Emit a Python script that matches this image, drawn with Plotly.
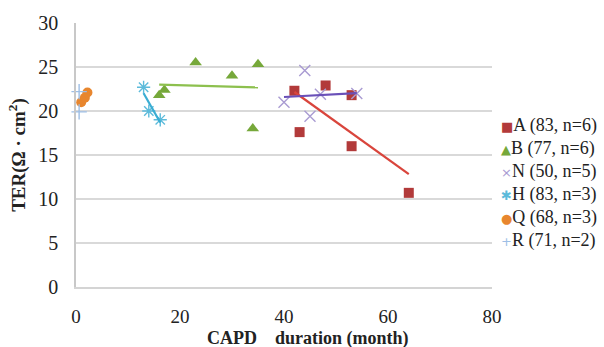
import numpy as np
import plotly.graph_objects as go

# ---- data ----
names = ["A (83, n=6)", "B (77, n=6)", "N (50, n=5)", "H (83, n=3)", "Q (68, n=3)", "R (71, n=2)"]
a_x = [42, 43, 48, 53, 53, 64]
a_y = [22.3, 17.6, 22.9, 21.8, 16.0, 10.7]
b_x = [16, 17, 23, 30, 34, 35]
b_y = [21.8, 22.4, 25.5, 24.0, 18.0, 25.3]
n_x = [40, 44, 45, 47, 54]
n_y = [21.0, 24.6, 19.4, 21.9, 22.0]
h_x = [13, 14, 16.2]
h_y = [22.7, 20.0, 19.0]
q_x = [1.0, 1.7, 2.2]
q_y = [21.0, 21.5, 22.1]
r_x = [0.6, 0.6]
r_y = [22.2, 19.9]
x_ticks = [0, 20, 40, 60, 80]
y_ticks = [0, 5, 10, 15, 20, 25, 30]

# ---- styles ----
series = [
    dict(x=a_x, y=a_y, sym="square", col="#B23A3A", tcol="#D9453C", size=10, thin=False, trend=True, glyph="■"),
    dict(x=b_x, y=b_y, sym="triangle-up", col="#76A83A", tcol="#8DC04E", size=11, thin=False, trend=True, glyph="▲"),
    dict(x=n_x, y=n_y, sym="x-thin-open", col="#A99BD2", tcol="#6A50B8", size=11, thin=True, trend=True, glyph="×"),
    dict(x=h_x, y=h_y, sym="asterisk-open", col="#5CBBDB", tcol="#3AADD3", size=11, thin=True, trend=True, glyph="✱"),
    dict(x=q_x, y=q_y, sym="circle", col="#E8862E", tcol="#E8862E", size=10, thin=False, trend=False, glyph="●"),
    dict(x=r_x, y=r_y, sym="cross-thin-open", col="#9EBFE6", tcol="#9EBFE6", size=11, thin=True, trend=False, glyph="+"),
]

FONT = "Liberation Serif"
fig = go.Figure()

for s, nm in zip(series, names):
    if s["thin"]:
        marker = dict(symbol=s["sym"], size=s["size"], color=s["col"],
                      line=dict(color=s["col"], width=1.4))
    else:
        marker = dict(symbol=s["sym"], size=s["size"], color=s["col"], line=dict(width=0))
    fig.add_trace(go.Scatter(x=s["x"], y=s["y"], mode="markers", name=nm,
                             marker=marker, cliponaxis=False, showlegend=False))

for s, nm in zip(series, names):
    if not s["trend"]:
        continue
    xs = np.array(s["x"], dtype=float)
    ys = np.array(s["y"], dtype=float)
    k, b = np.polyfit(xs, ys, 1)
    xl = np.array([xs.min(), xs.max()])
    fig.add_trace(go.Scatter(x=xl, y=k * xl + b, mode="lines", name=nm + " trend",
                             line=dict(color=s["tcol"], width=2.2), showlegend=False,
                             hoverinfo="skip"))

# legend drawn as annotations (tight Excel-like spacing)
L, R, T, B = 76, 112, 20, 60
W, H = 604, 347
pw, ph = W - L - R, H - T - B
for i, (s, nm) in enumerate(zip(series, names)):
    ypix = 123.5 + i * 23.3
    fig.add_annotation(
        xref="paper", yref="paper",
        x=(499 - L) / pw, y=(H - B - ypix) / ph,
        xanchor="left", yanchor="middle", showarrow=False,
        text=f'<span style="color:{s["col"]};font-size:13px;font-family:DejaVu Sans">{s["glyph"]}</span>{nm}',
        font=dict(family=FONT, size=18, color="#222222"),
    )

# x-axis title
fig.add_annotation(
    xref="paper", yref="paper", x=(308 - L) / pw, y=(H - B - 339.5) / ph,
    xanchor="center", yanchor="middle", showarrow=False,
    text="<b>CAPD\u00a0\u00a0\u00a0\u00a0duration (month)</b>",
    font=dict(family=FONT, size=18, color="#222222"),
)

fig.update_layout(
    width=W, height=H,
    margin=dict(l=L, r=R, t=T, b=B),
    paper_bgcolor="white", plot_bgcolor="white",
    showlegend=False,
    font=dict(family=FONT, color="#222222"),
)
fig.update_xaxes(
    range=[0, 80], tickvals=x_ticks, ticktext=[str(v) for v in x_ticks],
    showgrid=False, zeroline=False, showline=True, linecolor="#d4d4d4", linewidth=2,
    ticks="", tickfont=dict(family=FONT, size=19, color="#222222"), ticklabelstandoff=11,
)
fig.update_yaxes(
    range=[0, 30], tickvals=y_ticks, ticktext=[str(v) for v in y_ticks],
    showgrid=True, gridcolor="#d9d9d9", gridwidth=2, zeroline=False,
    showline=True, linecolor="#c8c8c8", linewidth=1.5,
    ticks="", tickfont=dict(family=FONT, size=20, color="#222222"), ticklabelstandoff=12,
    title=dict(text="<b>TER(Ω · cm<sup>2</sup>)</b>", font=dict(family=FONT, size=19, color="#222222"),
               standoff=8),
)

fig.write_html(
    "out.html",
    config={"displayModeBar": False},
    post_script="document.body.style.margin='0';document.body.style.overflow='hidden';",
)
